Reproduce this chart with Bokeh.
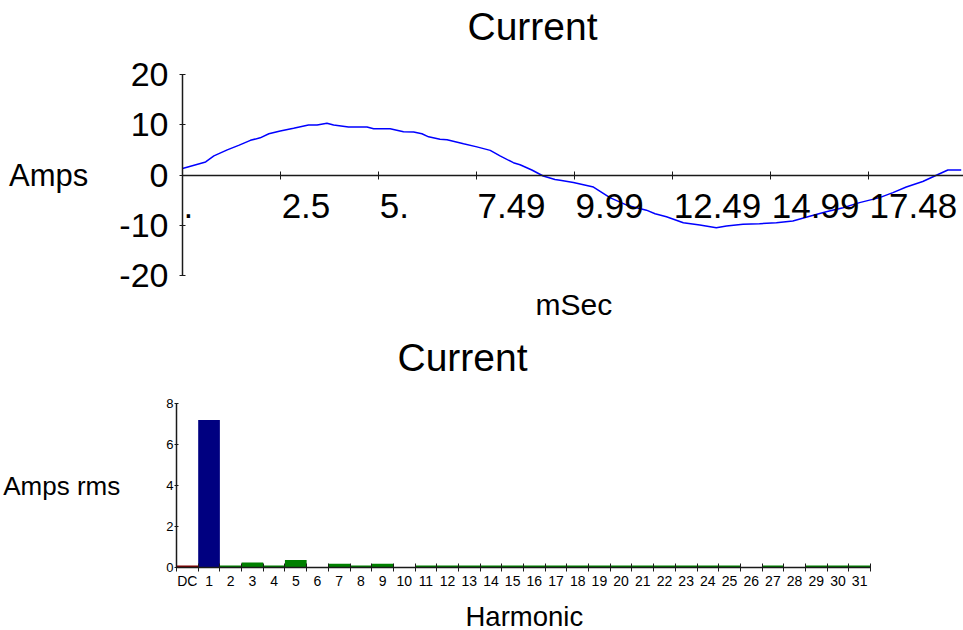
from bokeh.plotting import figure
from bokeh.models import FixedTicker, Range1d, Title, LabelSet, ColumnDataSource
from bokeh.core.properties import value
from bokeh.embed import file_html
from bokeh.resources import INLINE

FONT = "Liberation Sans"

# ---------------- top chart data (time in ms, current in A) ----------------
time_ms = [0.0, 0.59, 0.8, 1.14, 1.43, 1.73, 1.98, 2.2, 2.49, 2.83, 3.21, 3.43,
           3.68, 3.85, 4.23, 4.7, 4.87, 5.29, 5.63, 5.89, 6.1, 6.27, 6.56, 6.74,
           7.16, 7.5, 7.84, 8.09, 8.43, 8.6, 8.9, 9.19, 9.49, 9.62, 9.96, 10.47,
           10.89, 11.32, 11.82, 12.04, 12.33, 12.76, 13.18, 13.6, 13.86, 14.28,
           14.7, 15.13, 15.55, 15.98, 16.4, 16.83, 17.25, 17.76, 18.1, 18.44,
           18.86, 19.29, 19.5, 19.84]
current_a = [1.3, 2.6, 3.8, 5.0, 5.9, 6.9, 7.4, 8.2, 8.75, 9.3, 9.95, 9.95,
             10.3, 9.95, 9.55, 9.55, 9.2, 9.2, 8.6, 8.55, 8.2, 7.6, 7.1, 7.0,
             6.2, 5.6, 4.9, 3.8, 2.45, 2.05, 1.0, -0.2, -0.9, -1.05, -1.5, -2.4,
             -4.5, -6.0, -7.0, -7.7, -8.3, -9.5, -9.95, -10.5, -10.15, -9.8,
             -9.7, -9.5, -9.15, -8.2, -7.3, -6.5, -5.5, -4.5, -3.5, -2.4,
             -1.3, 0.25, 1.0, 1.0]
x_tick_values = [0.0, 2.5, 5.0, 7.49, 9.99, 12.49, 14.99, 17.48]
x_tick_labels = [".", "2.5", "5.", "7.49", "9.99", "12.49", "14.99", "17.48"]
y_ticks_top = [-20, -10, 0, 10, 20]

# ---------------- bottom chart data ----------------
harmonics = ["DC"] + [str(i) for i in range(1, 32)]
amps_rms = [0.1, 7.2, 0.1, 0.25, 0.1, 0.36, 0.0, 0.18, 0.1, 0.18, 0.0, 0.1,
            0.1, 0.1, 0.1, 0.1, 0.1, 0.1, 0.1, 0.1, 0.1, 0.1, 0.1, 0.1,
            0.1, 0.1, 0.0, 0.1, 0.0, 0.1, 0.1, 0.1]
y_ticks_bottom = [0, 2, 4, 6, 8]

AXIS_COLOR = "#1a1a1a"
PX_PER_MS = 39.25


def spacer(px):
    """A blank title used only to keep a gap between a text and the frame."""
    return Title(text=" ", text_font_size="1px", standoff=px - 3,
                 text_color="white")


def text_title(txt, size, offset, valign):
    return Title(text=txt, align="left", offset=offset, vertical_align=valign,
                 standoff=0, text_font=FONT, text_font_size=size,
                 text_font_style="normal", text_color="black")


# ================= TOP FIGURE =================
p1 = figure(x_range=Range1d(0, 781 / PX_PER_MS), y_range=Range1d(-20, 20),
            frame_width=781, frame_height=201,
            min_border_left=182, min_border_right=0,
            min_border_top=74, min_border_bottom=55,
            output_backend="svg", toolbar_location=None)
p1.outline_line_color = None
p1.xgrid.visible = False
p1.ygrid.visible = False

p1.line(time_ms, current_a, line_color="#0000FF", line_width=1.5)

xa = p1.xaxis[0]
xa.fixed_location = 0
xa.ticker = FixedTicker(ticks=x_tick_values, minor_ticks=[])
xa.major_label_text_font_size = "0px"
xa.major_label_text_color = None
xa.major_tick_in = 4
xa.major_tick_out = 4
xa.axis_line_color = AXIS_COLOR
xa.axis_line_width = 1.5
xa.major_tick_line_color = AXIS_COLOR
xa.minor_tick_line_color = None

lbl_src = ColumnDataSource(dict(x=x_tick_values, y=[0] * len(x_tick_values),
                                text=x_tick_labels))
p1.add_layout(LabelSet(x="x", y="y", text="text", source=lbl_src,
                       text_align="left", text_baseline="alphabetic",
                       x_offset=1, y_offset=-43,
                       text_font=value(FONT), text_font_size=value("35px"),
                       text_color="black"))

ya = p1.yaxis[0]
ya.ticker = FixedTicker(ticks=y_ticks_top, minor_ticks=[])
ya.major_label_overrides = {v: str(v) for v in y_ticks_top}
ya.major_tick_in = 3
ya.major_tick_out = 3
ya.major_label_standoff = 11
ya.major_label_text_font = FONT
ya.major_label_text_font_size = "34px"
ya.major_label_text_color = "black"
ya.axis_line_color = AXIS_COLOR
ya.axis_line_width = 1.5
ya.major_tick_line_color = AXIS_COLOR
ya.axis_label = "Amps"
ya.axis_label_orientation = "horizontal"
ya.axis_label_text_font = FONT
ya.axis_label_text_font_size = "31px"
ya.axis_label_text_font_style = "normal"
ya.axis_label_text_color = "black"
ya.axis_label_text_baseline = "alphabetic"
ya.axis_label_standoff = 28

# above: first added sits next to the frame
p1.add_layout(spacer(27), "above")
p1.add_layout(text_title("Current", "39px", 285, "bottom"), "above")
# below: axis (fixed at y=0) first, then spacer, then the label
p1.add_layout(spacer(12), "below")
p1.add_layout(text_title("mSec", "30px", 353, "top"), "below")

# ================= BOTTOM FIGURE =================
bar_colors = ["#800000" if h == "DC" else ("#000080" if h == "1" else "#008000")
              for h in harmonics]
idx = list(range(len(harmonics)))

p2 = figure(x_range=Range1d(-0.5, len(harmonics) - 0.5), y_range=Range1d(0, 8),
            frame_width=694, frame_height=164,
            min_border_left=171, min_border_right=98,
            min_border_top=73, min_border_bottom=63,
            output_backend="svg", toolbar_location=None)
p2.outline_line_color = None
p2.xgrid.visible = False
p2.ygrid.visible = False

p2.vbar(x=idx, top=amps_rms, width=1.0, fill_color=bar_colors, line_color=None)

xb = p2.xaxis[0]
xb.ticker = FixedTicker(ticks=idx, minor_ticks=[i - 0.5 for i in range(len(harmonics) + 1)])
xb.major_label_overrides = {i: h for i, h in zip(idx, harmonics)}
xb.major_tick_in = 0
xb.major_tick_out = 0
xb.minor_tick_in = 4
xb.minor_tick_out = 4
xb.minor_tick_line_color = AXIS_COLOR
xb.axis_line_color = AXIS_COLOR
xb.axis_line_width = 1.5
xb.major_label_standoff = 1
xb.major_label_text_font = FONT
xb.major_label_text_font_size = "14px"
xb.major_label_text_color = "black"

yb = p2.yaxis[0]
yb.ticker = FixedTicker(ticks=y_ticks_bottom, minor_ticks=[])
yb.major_tick_in = 2
yb.major_tick_out = 2
yb.major_label_standoff = 1
yb.major_label_text_font = FONT
yb.major_label_text_font_size = "13px"
yb.major_label_text_color = "black"
yb.axis_line_color = AXIS_COLOR
yb.axis_line_width = 1.5
yb.major_tick_line_color = AXIS_COLOR
yb.axis_label = "Amps rms"
yb.axis_label_orientation = "horizontal"
yb.axis_label_text_font = FONT
yb.axis_label_text_font_size = "26px"
yb.axis_label_text_font_style = "normal"
yb.axis_label_text_color = "black"
yb.axis_label_text_baseline = "alphabetic"
yb.axis_label_standoff = 43

p2.add_layout(spacer(25), "above")
p2.add_layout(text_title("Current", "39px", 221, "bottom"), "above")
p2.add_layout(spacer(9), "below")
p2.add_layout(text_title("Harmonic", "27.5px", 289, "top"), "below")

open("out.html", "w").write(file_html([p1, p2], INLINE))
